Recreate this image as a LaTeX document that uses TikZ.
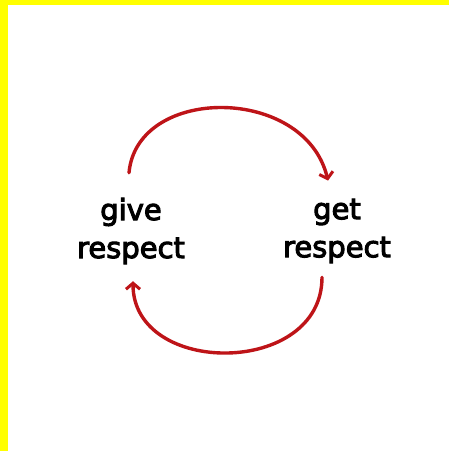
\documentclass[tikz,border=0pt]{standalone}
\usepackage{fontspec}
\setmainfont{DejaVu Sans}
\newfontfamily\labelfont{DejaVu Sans}[FakeBold=3.5]
\usetikzlibrary{arrows.meta}
\definecolor{loopred}{RGB}{190,20,24}
\definecolor{bandyellow}{RGB}{255,255,0}
\tikzset{
  label text/.style={align=center, font=\labelfont\fontsize{29}{38}\selectfont, inner sep=0pt, text=black},
  loop arrow/.style={draw=loopred, line width=3.4pt, line cap=round,
    -{Straight Barb[length=6pt,width=14pt,line width=3pt]}}
}
\begin{document}
\begin{tikzpicture}[x=1pt,y=-1pt]
\useasboundingbox (0,0) rectangle (449,451);
\fill[white] (0,0) rectangle (449,451);
\fill[bandyellow] (0,0) rectangle (449,5);
\fill[bandyellow] (0,0) rectangle (8,451);
\node[label text] (give) at (131,231) {give\\respect};
\node[label text] (get) at (337,231) {get\\respect};
\draw[loop arrow] ([yshift=25pt,xshift=-2pt]give.north) .. controls (137,85) and (305,85) .. ([yshift=18pt,xshift=-9pt]get.north);
\draw[loop arrow] ([yshift=-14pt,xshift=-15pt]get.south) .. controls (322,377) and (133,377) .. ([yshift=-17pt,xshift=2pt]give.south);
\end{tikzpicture}
\end{document}
